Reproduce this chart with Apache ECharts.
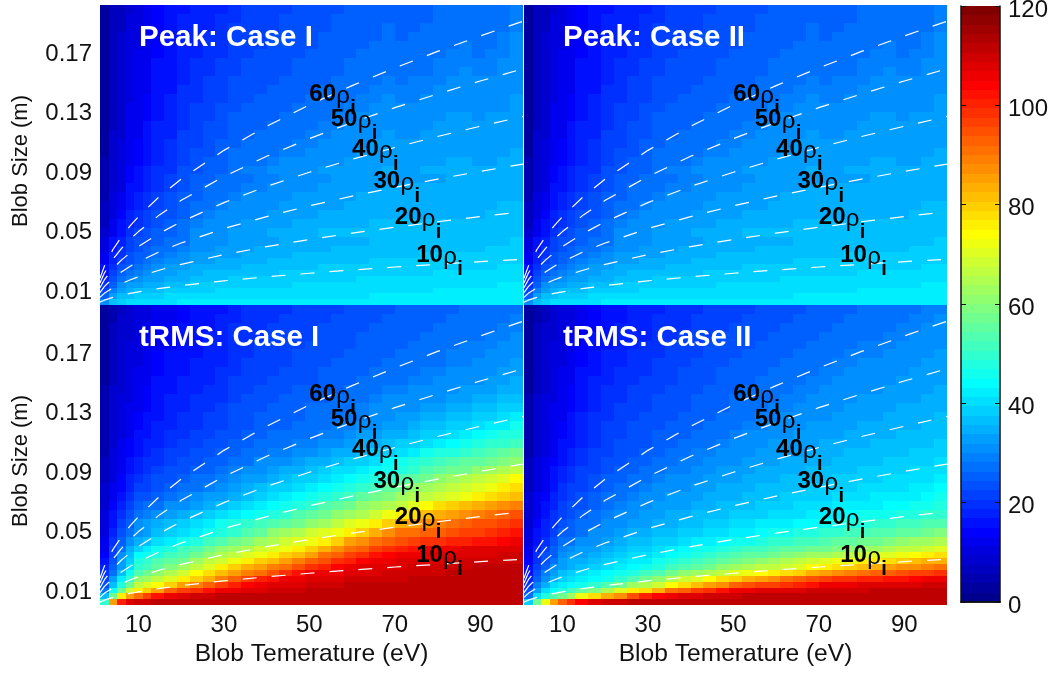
<!DOCTYPE html>
<html><head><meta charset="utf-8">
<script src="https://cdn.jsdelivr.net/npm/echarts@6/dist/echarts.min.js"></script>
<style>html,body{margin:0;padding:0;background:#fff}#c{width:1063px;height:676px}</style>
</head><body><div id="c"></div>
<script>
const tempEdges=[1,3,5,7,9,11,13,16,19,22,25,28,31,34,37,40,43,46,49,52,55,58,61,64,67,70,73,76,79,82,85,88,91,94,97,100];
const sizeEdges=[.001,.005,.009,.013,.017,.021,.025,.029,.033,.037,.041,.047,.053,.059,.065,.071,.077,.083,.089,.095,.101,.107,.113,.119,.125,.131,.137,.143,.149,.155,.161,.167,.173,.179,.185,.191,.197,.203];
const xTicks=[10,30,50,70,90];
const yTicks=[0.01,0.05,0.09,0.13,0.17];
const barTicks=[0,20,40,60,80,100,120];
const panelTitles=['Peak: Case I','Peak: Case II','tRMS: Case I','tRMS: Case II'];
const xName='Blob Temerature (eV)';
const yName='Blob Size (m)';

const peakCaseI=[
[31,37,39,40,40,41,41,41,42,42,42,42,42,42,42,42,42,42,42,42,42,42,42,42,42,42,42,42,43,43,43,43,43,43,43],
[25,33,36,37,38,39,39,40,40,41,41,41,41,41,41,41,41,41,41,41,41,41,41,42,42,42,42,42,42,42,42,42,42,42,42],
[21,29,33,34,36,36,37,38,39,39,39,40,40,40,40,40,40,40,41,41,41,41,41,41,41,41,41,41,42,42,42,42,42,42,42],
[19,26,30,32,33,34,35,36,37,38,38,38,39,39,39,39,39,40,40,40,40,40,40,40,40,41,41,41,41,41,41,41,41,42,42],
[17,24,27,29,31,32,33,35,35,36,37,37,38,38,38,38,39,39,39,39,39,39,40,40,40,40,40,40,40,40,40,41,41,41,41],
[16,22,25,28,29,30,32,33,34,35,36,36,36,37,37,37,38,38,38,38,38,39,39,39,39,39,39,39,40,40,40,40,40,40,40.5],
[15,20,23,26,27,29,30,32,33,34,34,35,35,36,36,37,37,37,37,38,38,38,38,38,38,39,39,39,39,39,39,39,39,39.5,39.5],
[13,18,22,24,26,27,29,30,31,33,33,34,34,35,35,36,36,36,37,37,37,37,37,38,38,38,38,38,38,38,39,39,39,39,39],
[12,17,20,23,25,26,28,29,30,32,32,33,33,34,34,35,35,36,36,36,36,37,37,37,37,37,37,38,38,38,38,38,38,38,38.5],
[11,16,19,22,24,25,27,28,29,31,31,32,33,33,34,34,34,35,35,35,36,36,36,36,36,37,37,37,37,37,37,37,38,38,38],
[10,15,18,21,23,24,26,27,28,30,30,31,32,32,33,33,34,34,34,35,35,35,35,36,36,36,36,36,36,37,37,37,37,37,37.5],
[8,13,16,20,21,23,25,26,28,30,31,31,32,33,33,34,34,35,35,36,36,36,36,36,36,36,36,36,36,36,36,36,37,37,37],
[7,12,15,18,20,22,24,25,27,29,30,30,31,32,32,33,33,34,34,35,35,35,35,36,36,36,36,36,36,36,36,36,36,36,36.5],
[6.5,11,14,17,19,21,23,24,26,28,29,30,30,31,31,32,32,33,33,34,34,34,35,35,35,35,35,35,35,35,35,35,36,36,36],
[6,10,13,16,18,20,22,23,26,27,28,29,30,30,31,31,32,32,33,33,33,34,34,34,35,35,35,35,35,35,35,35,35,36,36],
[5.5,9.5,12,15,17,19,21,23,25,26,27,28,29,30,30,31,31,32,32,32,33,33,34,34,34,34,34,34,34,34,35,35,35,35,35.5],
[5,9,11,15,16,18,20,22,24,25,27,28,28,29,29,30,31,31,31,32,32,33,33,33,34,34,34,34,34,34,34,34,35,35,35],
[4.5,8.5,11,14,15,17,20,21,23,25,26,27,28,28,29,29,30,30,31,31,32,32,32,33,33,33,33,33,33,34,34,34,34,34,35],
[4,8,10,14,15,17,19,20,23,24,25,26,28,29,29,30,30,31,31,32,32,33,33,33,34,33,33,34,34,34,34,34,34,34,34.5],
[4,8,10,13,14,16,18,20,22,24,25,26,27,28,28,29,30,30,31,31,31,32,32,33,33,32,33,33,33,34,34,33,33,34,34],
[3.5,7.5,9.5,13,14,16,18,19,22,23,24,25,27,27,28,28,29,29,30,30,31,31,32,32,33,32,32,33,33,33,33,33,33,33,34],
[3.5,7.5,9.5,12,13.5,15,18,19,21,22,24,25,26,27,27,28,28,29,29,30,30,31,31,32,32,32,32,32,33,33,33,32,33,33,33.5],
[3.5,7.5,9,12,13,15,17,18,21,22,23,24,26,26,27,27,28,28,29,29,30,30,31,31,32,31,31,32,32,32,33,32,32,33,33],
[3,7,9,12,13,15,17,18,20,21,23,24,25,26,26,27,27,28,28,29,29,30,30,31,31,31,31,31,32,32,32,32,32,32,33],
[3,7,9,11.5,13,14,16,17,20,21,22,23,25,25,26,26,27,27,28,28,29,29,30,30,31,30,30,31,31,32,32,31,32,32,32.5],
[3,7,9,11.5,13,14,16,17,19,21,22,23,24,25,25,26,26,27,27,28,28,29,29,30,30,30,30,30,31,31,31,31,31,31,32],
[3,7,8.5,11,12,14,16,17,19,20,21,22,24,24,25,25,26,26,27,27,28,28,29,29,30,29,29,30,30,31,31,30,31,31,32],
[3,6.5,8.5,11,12,13,15,16,19,20,21,22,23,24,24,25,25,26,26,27,27,28,28,29,29,29,29,29,30,30,31,30,30,31,31.5],
[2.5,6.5,8,11,12,13,15,16,18,19,21,21,23,23,24,24,25,25,26,26,27,27,28,28,29,28,29,29,29,30,30,30,30,30,31],
[2.5,6.5,8,10.5,12,13,15,16,18,19,20,21,22,23,23,24,24,25,25,26,26,27,27,28,28,28,28,28,29,29,30,29,29,30,31],
[2.5,6.5,8,10.5,11.5,13,15,16,18,19,20,21,22,23,23,24,24,25,25,26,26,27,27,28,28,27,28,28,29,29,29,29,29,30,30.5],
[2.5,6,8,10,11.5,13,14.5,15,17,18,19,20,22,22,23,23,24,24,25,25,26,26,27,27,28,27,27,28,28,29,29,28,29,29,30.5],
[2,6,7.5,10,11,12,14.5,15,17,18,19,20,21,22,22,23,23,24,24,25,25,26,26,27,27,27,27,27,28,28,29,28,28,29,30],
[2,6,7.5,10,11,12,14,15,17,18,19,19,21,21,22,23,23,24,24,25,25,26,26,26,27,26,27,27,27,28,28,28,28,29,30],
[2,6,7,9.5,11,12,14,15,17,18,18,19,21,21,22,22,23,23,24,24,25,25,26,26,27,26,26,27,27,28,28,27,28,28,29.5],
[2,6,7,9.5,10.5,12,14,15,17,17,18,19,20,21,22,22,23,23,24,24,25,25,25,26,26,26,26,26,27,27,28,27,28,28,29.5],
[2,6,7,9,10.5,11.5,13.5,15,16,17,18,18,20,21,21,22,22,23,23,24,24,25,25,26,26,25,26,26,27,27,27,27,27,28,29]];
const peakCaseII=peakCaseI;

const trmsCaseI=[
[50,85,100,107,110,110,111,111,112,112,112,112,112,112,112,112,112,112,112,112,112,112,112,112,112,112,112,112,112,112,112,112,112,112,112],
[36,58,75,86,90,96,102,106,108,109,110,111,112,112,112,112,112,112,112,112,112,112,112,112,112,112,112,112,112,112,112,112,112,112,112],
[28,45,58,68,75,79,85,92,96,99,102,105,106,107,108,109,110,110,111,111,111,112,112,112,112,112,112,112,112,112,112,112,112,112,112],
[24,37,48,58,67,71,74,80,85,89,92,96,100,104,106,107,108,108,109,110,110,111,111,111,112,112,112,112,112,112,112,112,112,112,112],
[21,32,42,50,60,63,66,71,75,80,84,89,92,96,100,103,105,106,107,108,108,109,109,110,110,110,111,111,111,111,111,112,112,112,112],
[19,28,37,45,54,57,60,64,69,74,78,82,85,89,91,95,98,102,105,106,106,107,108,108,109,109,110,110,110,111,111,111,111,112,112],
[17,25,33,40,49,52,55,59,63,67,71,75,79,83,86,89,91,95,98,101,104,106,107,107,108,108,109,109,110,110,110,111,111,111,111],
[15.5,23,32,39,47,50,53,56,58,62,66,69,73,76,79,82,86,89,92,95,98,101,104,105,106,107,107,108,108,109,109,109,110,110,110],
[14,22,30,36,44,45,48,51,54,57,60,64,67,70,73,76,79,82,86,90,93,96,99,102,104,105,106,106,107,107,108,108,108,109,109],
[13,21,28,34,39,42,45,48,51,54,57,60,63,65,68,71,73,76,80,83,87,90,93,96,99,101,103,105,106,106,107,107,107,108,108],
[12,19,26,31,35,37,40,43,45,48,51,53,57,59,62,64,68,71,73,76,80,85,88,91,93,95,97,99,99,100,101,102,103,104,105],
[11,17,23,28,31,33,36,38,41,43,46,48,50,53,56,60,62,65,68,70,73,76,80,84,88,90,91,92,93,95,96,97,98,100,102],
[10,16,22,26,30,32,34,36,38,40,43,45,47,49,52,54,56,58,61,63,67,70,73,76,80,83,85,87,89,90,92,94,95,97,98],
[9.5,15,20,24,27,29,30,32,34,36,38,40,43,44,46,48,50,53,55,58,60,62,65,68,72,75,78,81,83,85,87,89,91,92,94],
[9,14,18,22,25,27,28,30,31,33,34,37,39,41,42,44,45,47,50,53,55,57,60,62,64,67,71,74,77,79,81,83,85,87,89],
[8,12,15,19,23,24,26,28,29,30,32,33,35,37,39,41,43,44,45,48,50,52,55,57,59,62,64,66,68,70,72,75,77,79,81],
[7.5,11.5,14.5,18,21,22,24,26,27,28,29,30,32,34,36,38,39,41,42,44,45,47,50,52,55,58,61,63,65,67,69,71,73,76,78],
[7,11,14,17,19.5,21,23,24,25,27,28,29,30,32,33,35,36,38,39,40,42,44,46,48,50,53,55,57,60,62,64,67,69,71,74],
[6.5,10.5,13,16,18,20,21,23,24,25,26,28,29,30,31,33,34,35,36,38,40,41,43,44,46,48,50,53,55,57,58,61,63,65,67],
[6,10,12.5,15,17,19,20,22,23,24,25,26,27,28,30,30,31,33,34,35,37,38,39,41,44,46,47,49,51,53,55,56,58,59,61],
[5.5,9.5,12,14,16,18,19,21,22,23,24,25,26,27,28,29,29,30,31,32,34,35,36,38,39,41,43,45,47,48,50,52,54,55,57],
[5.5,9,11.5,13.5,15,17,18,20,21,22,23,24,25,26,27,28,28,29,29,30,31,33,34,35,37,38,39,41,43,44,46,47,49,50,52],
[5,9,11,13,15,16,17,19,20,21,22,23,24,25,26,27,27,28,28,29,29,31,32,33,34,35,37,38,39,41,42,44,45,47,48],
[5,8.5,10.5,12.5,14,16,17,18,19,20,21,22,23,24,25,26,26,27,27,28,29,29,30,31,32,33,35,36,37,38,39,41,42,43,45],
[4.5,8,10,12,13.5,15,16,17.5,19,20,21,22,23,24,25,25,26,26,27,27,28,29,29,30,31,32,33,34,35,36,37,38,39,40,42],
[4.5,8,10,11.5,13,14.5,16,17,18,19,20,21,23,23,24,25,25,26,27,27,28,28,29,30,30,30,31,32,33,34,35,36,37,38,39],
[4,7.5,9.5,11,12.5,14,15,17,18,19,20,20,22,23,23,24,25,25,26,26,27,28,28,29,30,30,30,31,31,32,33,34,35,36,37],
[4,7.5,9,11,12,14,15,16,17,18,19,20,21,22,23,23,24,25,25,26,26,27,27,28,29,29,30,30,31,31,32,32,33,34,35],
[3.5,7,9,10.5,12,13,15,16,17,18,18,19,21,21,22,23,23,24,24,25,26,26,27,27,28,28,29,29,30,30,30,31,32,33,34],
[3.5,7,8.5,10,11.5,13,14,15,16,17,18,19,20,21,22,22,23,23,24,25,25,26,26,27,27,28,28,29,29,30,30,30,31,32,33],
[3,6.5,8.5,10,11,12.5,14,15,16,17,18,18,20,21,21,22,22,23,23,24,25,25,26,26,27,27,28,28,28,29,29,30,30,31,32],
[3,6.5,8,9.5,11,12,14,15,16,16,17,18,20,20,21,21,22,23,23,24,24,25,25,26,26,27,27,28,28,29,29,29,30,30,31],
[3,6,8,9.5,10.5,12,13,14,15,16,17,18,19,20,21,21,22,22,23,23,24,24,25,25,26,26,27,27,28,28,29,29,29,30,30],
[2.5,6,8,9,10.5,11.5,13,14,15,16,17,17,19,20,20,21,21,22,22,23,23,24,25,25,26,26,26,27,27,28,28,28,29,29,30],
[2.5,6,7.5,9,10,11.5,13,14,15,15,16,17,19,19,20,21,21,22,22,23,23,24,24,25,25,25,26,26,27,27,28,28,28,29,29],
[2,5.5,7.5,9,10,11,12,13,14,15,16,17,18,19,20,20,21,21,22,22,23,23,24,24,25,25,26,26,26,27,27,27,28,28,29],
[2,5.5,7,8.5,10,11,12,13,14,15,16,16,18,19,19,20,20,21,21,22,22,23,23,24,24,25,25,26,26,26,27,27,27,28,28]];

const trmsCaseII=[
[38,58,72,86,92,98,104,107,109,110,111,111,112,112,112,112,112,112,112,112,112,112,112,112,112,112,112,112,112,112,112,112,112,112,112],
[28,40,48,53,57,62,72,78,83,88,95,100,104,106,107,108,109,110,110,111,111,111,112,112,112,112,112,112,112,112,112,112,112,112,112],
[23,33,40,44,48,52,55,59,64,70,75,78,83,90,93,96,99,102,105,106,107,107,108,108,109,109,110,110,110,111,111,111,111,112,112],
[20,29,35,40,43,44,45,50,53,57,62,65,69,74,78,81,85,88,92,94,96,97,99,100,103,105,106,106,107,107,108,108,108,109,109],
[18,26,31,35,38,41,43,44,46,49,53,57,61,65,68,71,74,77,80,83,86,88,91,93,95,97,98,99,100,101,102,103,104,105,105],
[16,24,29,33,36,38,40,42,44,45,48,51,54,57,61,63,65,67,70,72,74,76,78,80,83,85,87,89,90,92,93,94,96,97,98],
[15,22,26,30,33,35,37,39,41,42,44,46,48,51,53,55,58,60,62,64,66,67,69,71,74,76,78,80,82,83,85,87,88,89,90],
[14,20,24,28,33,34,35,37,39,40,42,43,45,47,49,51,53,55,57,59,61,62,64,66,68,70,72,73,75,76,78,80,81,83,84],
[13,19,23,26,30,32,33,35,37,38,40,41,43,44,46,48,50,51,53,55,56,58,59,60,62,63,65,67,68,70,71,73,74,76,77],
[12,18,22,25,29,30,32,33,35,37,38,39,41,42,44,45,46,48,49,51,52,53,55,56,57,58,59,60,62,63,64,66,67,68,70],
[11,16,20,23,27,28,30,31,33,34,36,37,38,39,41,42,43,44,45,46,48,49,50,51,52,53,55,56,57,58,59,60,62,63,64],
[10,15,18,21,25,26,28,30,31,33,34,35,36,37,38,39,40,41,42,43,44,45,46,47,48,49,50,51,52,53,54,55,56,57,59],
[9,14,17,20,23,25,27,28,30,31,32,33,34,35,36,37,38,39,40,41,42,42,43,44,44,45,46,47,48,49,50,51,52,53,54],
[8.5,13,16,19,22,24,25,27,29,30,31,32,33,34,35,36,37,37,38,39,39,40,41,41,42,43,43,44,45,45,46,47,48,49,50],
[8,12,15,18,21,23,24,26,28,29,30,31,32,33,33,34,35,36,37,37,38,39,39,40,40,41,42,42,43,43,44,44,45,46,47],
[7.5,12,14,17,20,22,23,25,27,28,29,30,31,32,32,33,34,35,35,36,37,37,38,38,39,39,40,40,41,42,42,43,43,44,45],
[7,11,13,16,19,21,22,24,26,27,28,29,30,31,31,32,33,34,34,35,36,36,37,37,38,38,39,39,40,40,41,41,42,43,44],
[6.5,10.5,13,15,18,20,21,23,25,26,27,28,29,30,30,31,32,33,33,34,35,35,36,36,37,37,38,38,39,39,40,40,41,41,42],
[6,10,12,15,17,19,21,22,24,25,26,27,28,29,29,30,31,32,32,33,34,34,35,35,36,36,37,37,38,38,39,39,40,40,41],
[6,9.5,12,14,16,18,20,22,23,24,25,26,27,28,29,29,30,31,31,32,33,33,34,34,35,35,36,36,37,37,38,38,38,39,40],
[5.5,9,11,13,15,17,19,21,22,23,24,25,26,27,28,29,29,30,30,31,32,32,33,33,34,35,35,36,36,36,37,37,38,38,39],
[5,9,11,13,15,16,18,20,22,23,24,24,25,26,27,28,28,29,30,30,31,32,32,33,33,34,34,35,35,36,36,37,37,37,38],
[5,8.5,10.5,12.5,14,16,18,20,21,22,23,24,25,25,26,27,28,28,29,30,30,31,31,32,32,33,33,34,34,35,35,36,36,37,37],
[4.5,8,10,12,14,15,17,19,21,22,23,23,24,25,26,26,27,28,28,29,29,30,31,31,32,32,33,33,34,34,35,35,35,36,36],
[4.5,8,10,12,13,15,17,19,20,21,22,23,24,24,25,26,26,27,28,28,29,29,30,30,31,31,32,32,33,33,34,34,35,35,36],
[4,7.5,9.5,11.5,13,14,16,18,20,21,22,22,23,24,24,25,26,26,27,28,28,29,29,30,30,31,31,32,32,33,33,34,34,34,35],
[4,7.5,9.5,11,12,14,16,18,19,20,21,22,23,23,24,25,25,26,27,27,28,28,29,29,30,30,31,31,32,32,32,33,33,34,34],
[3.5,7,9,11,12,13.5,15,17,19,20,21,21,22,23,24,24,25,25,26,27,27,28,28,29,29,30,30,31,31,31,32,32,33,33,34],
[3.5,7,9,10.5,12,13,15,17,18,19,20,21,22,22,23,24,24,25,26,26,27,27,28,28,29,29,30,30,31,31,31,32,32,33,33],
[3,7,8.5,10,11.5,13,15,16,18,19,20,20,21,22,23,23,24,25,25,26,26,27,27,28,28,29,29,30,30,30,31,31,32,32,33],
[3,6.5,8.5,10,11,12.5,14,16,17,18,19,20,21,21,22,23,23,24,25,25,26,26,27,27,28,28,29,29,30,30,30,31,31,32,32],
[3,6.5,8,9.5,11,12,14,16,17,18,19,19,20,21,22,22,23,24,24,25,25,26,26,27,27,28,28,29,29,29,30,30,31,31,32],
[2.5,6,8,9.5,10.5,12,14,15,16,17,18,19,20,21,21,22,23,23,24,24,25,25,26,26,27,27,28,28,29,29,29,30,30,31,31],
[2.5,6,8,9,10,11.5,13,15,16,17,18,18,19,20,21,21,22,23,23,24,24,25,25,26,26,27,27,28,28,28,29,29,30,30,31],
[2,6,7.5,9,10,11,13,14,15,17,18,18,19,20,20,21,22,22,23,23,24,24,25,25,26,26,27,27,27,28,28,29,29,30,30],
[2,5.5,7,8.5,10,11,13,14,15,16,17,18,19,19,20,21,21,22,22,23,23,24,24,25,25,26,26,27,27,28,28,28,29,29,30],
[2,5.5,7,8.5,9.5,11,12,14,15,16,17,17,18,19,20,20,21,21,22,22,23,23,24,24,25,25,26,26,27,27,27,28,28,29,29]];

const contourTemps=[1,2,4,6,8,10,15,20,30,40,50,60,70,80,90,100];
const rho10=[.0032,.0045,.0064,.0078,.0091,.0101,.0124,.0143,.0175,.0202,.0226,.0248,.0268,.0286,.0304,.032];
const rho20=[.0064,.0091,.0128,.0157,.0181,.0202,.0248,.0286,.0351,.0405,.0453,.0496,.0535,.0572,.0607,.064];
const rho30=[.0096,.0136,.0192,.0235,.0272,.0304,.0372,.0429,.0526,.0607,.0679,.0744,.0803,.0859,.0911,.096];
const rho40=[.0128,.0181,.0256,.0314,.0362,.0405,.0496,.0572,.0701,.081,.0905,.0992,.1071,.1145,.1214,.128];
const rho50=[.016,.0226,.032,.0392,.0453,.0506,.062,.0716,.0876,.1012,.1131,.1239,.1339,.1431,.1518,.16];
const rho60=[.0192,.0272,.0384,.047,.0543,.0607,.0744,.0859,.1052,.1214,.1358,.1487,.1606,.1717,.1821,.192];

const labelNums=['60','50','40','30','20','10'];
const labelTemps=[50,55,60,65,70,75];
const labelSizes=[.1431,.1263,.1061,.0846,.0604,.0349];

const FONT="'Liberation Sans',Arial,Helvetica,sans-serif";
const jet=[];
for(let i=0;i<64;i++){
  const t=(i+1)/64,c=v=>Math.round(255*Math.max(0,Math.min(1,v)));
  jet.push(`rgb(${c(Math.min(4*t-1.5,-4*t+4.5))},${c(Math.min(4*t-.5,-4*t+3.5))},${c(Math.min(4*t+.5,-4*t+2.5))})`);
}
const colorOf=v=>jet[Math.max(0,Math.min(63,Math.floor(v/120*64)))];

function rectItem(params,api){
  const a=api.coord([api.value(0),api.value(3)]),b=api.coord([api.value(1),api.value(2)]);
  const x0=Math.round(a[0]),y0=Math.round(a[1]),x1=Math.round(b[0]),y1=Math.round(b[1]);
  return {type:'rect',shape:{x:x0,y:y0,width:x1-x0,height:y1-y0},style:{fill:colorOf(api.value(4)),stroke:null}};
}
function labelItem(params,api){
  const p=api.coord([api.value(0),api.value(1)]);
  const num=labelNums[params.dataIndex];
  const mk=(text,dx,dy,font)=>({type:'text',x:p[0]+dx,y:p[1]+dy,style:{text,font,fill:'#000',textAlign:'left',textVerticalAlign:'middle'}});
  return {type:'group',children:[
    mk(num,0,0,`bold 24px ${FONT}`),
    mk('ρ',27,2,`24px ${FONT}`),
    mk('i',41,15,`bold 20px ${FONT}`)
  ]};
}

const grids=[
 {left:100,top:5,width:423,height:300,outerBoundsMode:'none'},
 {left:524,top:5,width:423,height:300,outerBoundsMode:'none'},
 {left:100,top:305,width:423,height:300,outerBoundsMode:'none'},
 {left:524,top:305,width:423,height:300,outerBoundsMode:'none'},
 {left:961,top:6,width:39,height:596,outerBoundsMode:'none'}
];
const tables=[peakCaseI,peakCaseII,trmsCaseI,trmsCaseII];
const curves=[rho10,rho20,rho30,rho40,rho50,rho60];
const xAxes=[],yAxes=[],series=[],titles=[];
const tickFont={fontFamily:FONT,fontSize:24,color:'#111'};
tables.forEach((tab,k)=>{
  const bottom=k>=2,left=k%2===0;
  xAxes.push({gridIndex:k,type:'value',min:1,max:100,name:bottom?xName:'',nameLocation:'middle',nameGap:37,
    nameTextStyle:{fontFamily:FONT,fontSize:24.6,color:'#111'},
    axisLine:{show:false},axisTick:{show:false},splitLine:{show:false},
    axisLabel:{show:bottom,customValues:xTicks,margin:8,hideOverlap:false,...tickFont}});
  yAxes.push({gridIndex:k,type:'value',min:0.00126,max:0.2029,name:left?yName:'',nameLocation:'middle',nameGap:68,nameRotate:90,
    nameTextStyle:{fontFamily:FONT,fontSize:22,color:'#111',padding:[0,12,0,0]},
    axisLine:{show:false},axisTick:{show:false},splitLine:{show:false},
    axisLabel:{show:left,customValues:yTicks,margin:8,...tickFont}});
  const cells=[];
  tab.forEach((row,r)=>row.forEach((v,c)=>cells.push([tempEdges[c],tempEdges[c+1],sizeEdges[r],sizeEdges[r+1],v])));
  series.push({type:'custom',name:panelTitles[k],xAxisIndex:k,yAxisIndex:k,data:cells,renderItem:rectItem,clip:true,silent:true,z:1,
    encode:{x:[0,1],y:[2,3]},progressive:0,animation:false});
  curves.forEach((cv,i)=>series.push({type:'line',xAxisIndex:k,yAxisIndex:k,name:(i+1)*10+'rho_i',
    data:contourTemps.map((t,j)=>[t,cv[j]]),symbol:'none',silent:true,z:3,smooth:false,
    lineStyle:{color:'#fff',width:1.2,type:[14,15]},animation:false}));
  series.push({type:'custom',xAxisIndex:k,yAxisIndex:k,silent:true,z:5,clip:false,renderItem:labelItem,
    data:labelTemps.map((t,i)=>[t,labelSizes[i]]),encode:{x:0,y:1},animation:false});
  titles.push({text:panelTitles[k],left:(left?100:524)+39,top:(bottom?305:5)+18,padding:0,
    textStyle:{fontFamily:FONT,fontSize:29.5,fontWeight:'bold',color:'#fff'},z:6});
});
// colour bar
const barCells=jet.map((_,i)=>[0,1,i*120/64,(i+1)*120/64,(i+0.5)*120/64]);
xAxes.push({gridIndex:4,type:'value',min:0,max:1,position:'bottom',axisLine:{show:true,lineStyle:{color:'#111',width:1.5}},axisTick:{show:false},axisLabel:{show:false},splitLine:{show:false},z:6});
xAxes.push({gridIndex:4,type:'value',min:0,max:1,position:'top',axisLine:{show:true,lineStyle:{color:'#111',width:1.5}},axisTick:{show:false},axisLabel:{show:false},splitLine:{show:false},z:6});
yAxes.push({gridIndex:4,type:'value',min:0,max:120,position:'right',
  axisLine:{show:true,onZero:false,lineStyle:{color:'#111',width:1.5}},
  axisTick:{show:true,inside:true,length:5,customValues:barTicks,lineStyle:{color:'#111'}},
  axisLabel:{customValues:barTicks,margin:8,verticalAlign:'top',lineHeight:8,...tickFont},splitLine:{show:false},z:6});
yAxes.push({gridIndex:4,type:'value',min:0,max:120,position:'left',
  axisLine:{show:true,onZero:false,lineStyle:{color:'#111',width:1.5}},
  axisTick:{show:true,inside:true,length:5,customValues:barTicks,lineStyle:{color:'#111'}},
  axisLabel:{show:false},splitLine:{show:false},z:6});
series.push({type:'custom',xAxisIndex:4,yAxisIndex:4,data:barCells,renderItem:rectItem,clip:true,silent:true,z:1,
  encode:{x:[0,1],y:[2,3]},animation:false});

const chart=echarts.init(document.getElementById('c'),null,{renderer:'canvas'});
chart.setOption({animation:false,backgroundColor:'#fff',title:titles,grid:grids,xAxis:xAxes,yAxis:yAxes,series:series});
</script></body></html>
